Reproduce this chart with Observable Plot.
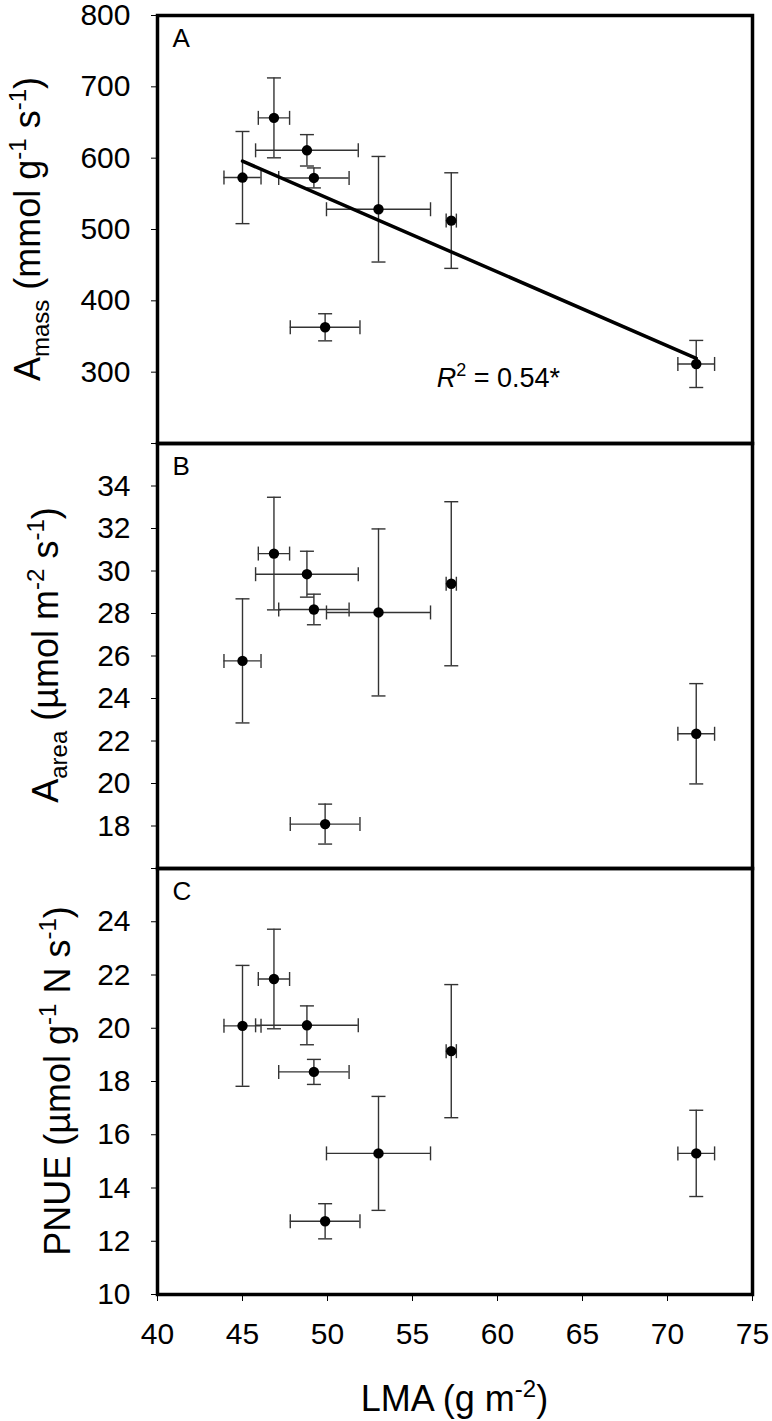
<!DOCTYPE html>
<html>
<head>
<meta charset="utf-8">
<script src="https://cdn.jsdelivr.net/npm/d3@7"></script>
<script src="https://cdn.jsdelivr.net/npm/@observablehq/plot@0.6"></script>
<style>
  body { margin: 0; background: #fff; }
  #chart { width: 772px; }
  #chart svg { display: block; }
</style>
</head>
<body>
<div id="chart"></div>
<script>
// ---- data ----
const lma      = [45.0, 46.85, 48.79, 49.2, 49.86, 53.0, 57.28, 71.69];
const lmaErr   = [1.09, 0.92, 3.02, 2.07, 2.05, 3.06, 0.3, 1.08];
const amass    = [572.8, 656.5, 611, 572.3, 362.9, 528.4, 512.5, 311.5];
const amassErr = [64.6, 56, 22, 14, 19, 74, 67, 33];
const aarea    = [25.77, 30.82, 29.85, 28.19, 18.09, 28.05, 29.4, 22.34];
const aareaErr = [2.92, 2.65, 1.08, 0.72, 0.94, 3.93, 3.86, 2.36];
const pnue     = [20.09, 21.85, 20.11, 18.36, 12.75, 15.3, 19.14, 15.3];
const pnueErr  = [2.27, 1.87, 0.73, 0.47, 0.66, 2.14, 2.5, 1.62];

const xTicks = [40, 45, 50, 55, 60, 65, 70, 75];
const aTicks = [200, 300, 400, 500, 600, 700, 800];
const bTicks = [16, 18, 20, 22, 24, 26, 28, 30, 32, 34, 36];
const cTicks = [10, 12, 14, 16, 18, 20, 22, 24, 26];
const r2Label = {x: 56.45, y: 278.5, text: " = 0.54*"};

const FONT = "'Liberation Sans', Arial, sans-serif";
const W = 772, ML = 157, MR = 20;

function rows(ys, yErr) {
  return lma.map((x, i) => ({x, xe: lmaErr[i], y: ys[i], ye: yErr[i]}));
}
const capH = {draw(ctx, size) { const w = Math.sqrt(size / Math.PI); ctx.moveTo(-w, 0); ctx.lineTo(w, 0); }};
const capV = {draw(ctx, size) { const w = Math.sqrt(size / Math.PI); ctx.moveTo(0, -w); ctx.lineTo(0, w); }};
const EB = "#333333";

function errMarks(data) {
  return [
    Plot.ruleX(data, {x: "x", y1: d => d.y - d.ye, y2: d => d.y + d.ye, stroke: EB, strokeWidth: 1.4}),
    Plot.ruleY(data, {y: "y", x1: d => d.x - d.xe, x2: d => d.x + d.xe, stroke: EB, strokeWidth: 1.4}),
    Plot.dot(data, {x: "x", y: d => d.y + d.ye, symbol: capH, r: 7, stroke: EB, strokeWidth: 1.4, fill: "none"}),
    Plot.dot(data, {x: "x", y: d => d.y - d.ye, symbol: capH, r: 7, stroke: EB, strokeWidth: 1.4, fill: "none"}),
    Plot.dot(data, {x: d => d.x + d.xe, y: "y", symbol: capV, r: 7, stroke: EB, strokeWidth: 1.4, fill: "none"}),
    Plot.dot(data, {x: d => d.x - d.xe, y: "y", symbol: capV, r: 7, stroke: EB, strokeWidth: 1.4, fill: "none"}),
    Plot.dot(data, {x: "x", y: "y", r: 5.2, fill: "black", stroke: "none"})
  ];
}

function panel({data, ydomain, yticks, hideTicks, height, marginTop, marginBottom, showX, letter, extra = []}) {
  return Plot.plot({
    width: W, height, marginLeft: ML, marginRight: MR, marginTop, marginBottom,
    style: {fontFamily: FONT, fontSize: "30px", background: "transparent", overflow: "visible", color: "black"},
    x: {domain: [40, 75], ticks: xTicks, tickSize: 7, tickPadding: 21, label: null, axis: showX ? "bottom" : null},
    y: {domain: ydomain, ticks: yticks, tickSize: 6, tickPadding: 21, label: null,
        tickFormat: d => hideTicks.includes(d) ? "" : String(d)},
    marks: [
      ...errMarks(data),
      ...extra,
      Plot.text([letter], {frameAnchor: "top-left", dx: 15, dy: 13, fontSize: 26, fill: "black"}),
      Plot.frame({stroke: "black", strokeWidth: 3.5})
    ]
  });
}

function yTitle(svg, parts, x, y) {
  const t = d3.select(svg).append("text")
    .attr("transform", `translate(${x},${y}) rotate(-90)`)
    .attr("text-anchor", "middle")
    .style("font-family", FONT).style("font-size", "36px").attr("fill", "black");
  addParts(t, parts);
}
function addParts(t, parts, supSize = 24, supShift = 14) {
  let shift = 0;
  for (const [txt, kind] of parts) {
    const s = t.append("tspan").text(txt);
    let target = kind === "sup" ? -supShift : kind === "sub" ? 9 : 0;
    if (kind === "sup" || kind === "sub") s.style("font-size", supSize + "px");
    if (kind === "it") s.style("font-style", "italic");
    if (target !== shift) { s.attr("dy", target - shift); shift = target; }
  }
}

const root = document.getElementById("chart");

// Panel A
const dataA = rows(amass, amassErr);
const pA = panel({
  data: dataA, ydomain: [200, 800], yticks: aTicks, hideTicks: [200],
  height: 443, marginTop: 15, marginBottom: 0, letter: "A",
  extra: [Plot.linearRegressionY(dataA, {x: "x", y: "y", stroke: "black", strokeWidth: 3.5, ci: 0})]
});
root.appendChild(pA);
yTitle(pA, [["A"], ["mass", "sub"], [" (mmol g"], ["-1", "sup"], [" s"], ["-1", "sup"], [")"]], 40, 229);
{
  const sx = pA.scale("x"), sy = pA.scale("y");
  const t = d3.select(pA).append("text")
    .attr("x", sx.apply(r2Label.x)).attr("y", sy.apply(r2Label.y))
    .attr("text-anchor", "start")
    .style("font-family", FONT).style("font-size", "27px").attr("fill", "black");
  addParts(t, [["R", "it"], ["2", "sup"], [r2Label.text]], 18, 11);
}

// Panel B
const pB = panel({
  data: rows(aarea, aareaErr), ydomain: [16, 36], yticks: bTicks, hideTicks: [16, 36],
  height: 425, marginTop: 0, marginBottom: 0, letter: "B"
});
root.appendChild(pB);
yTitle(pB, [["A"], ["area", "sub"], [" (\u00b5mol m"], ["-2", "sup"], [" s"], ["-1", "sup"], [")"]], 58, 212);

// Panel C
const pC = panel({
  data: rows(pnue, pnueErr), ydomain: [10, 26], yticks: cTicks, hideTicks: [26],
  height: 553, marginTop: 0, marginBottom: 127, showX: true, letter: "C"
});
root.appendChild(pC);
yTitle(pC, [["PNUE (\u00b5mol g"], ["-1", "sup"], [" N s"], ["-1", "sup"], [")"]], 70, 213);
{
  const t = d3.select(pC).append("text")
    .attr("x", (ML + W - MR) / 2).attr("y", 543)
    .attr("text-anchor", "middle")
    .style("font-family", FONT).style("font-size", "36px").attr("fill", "black");
  addParts(t, [["LMA (g m"], ["-2", "sup"], [")"]]);
}
</script>
</body>
</html>
